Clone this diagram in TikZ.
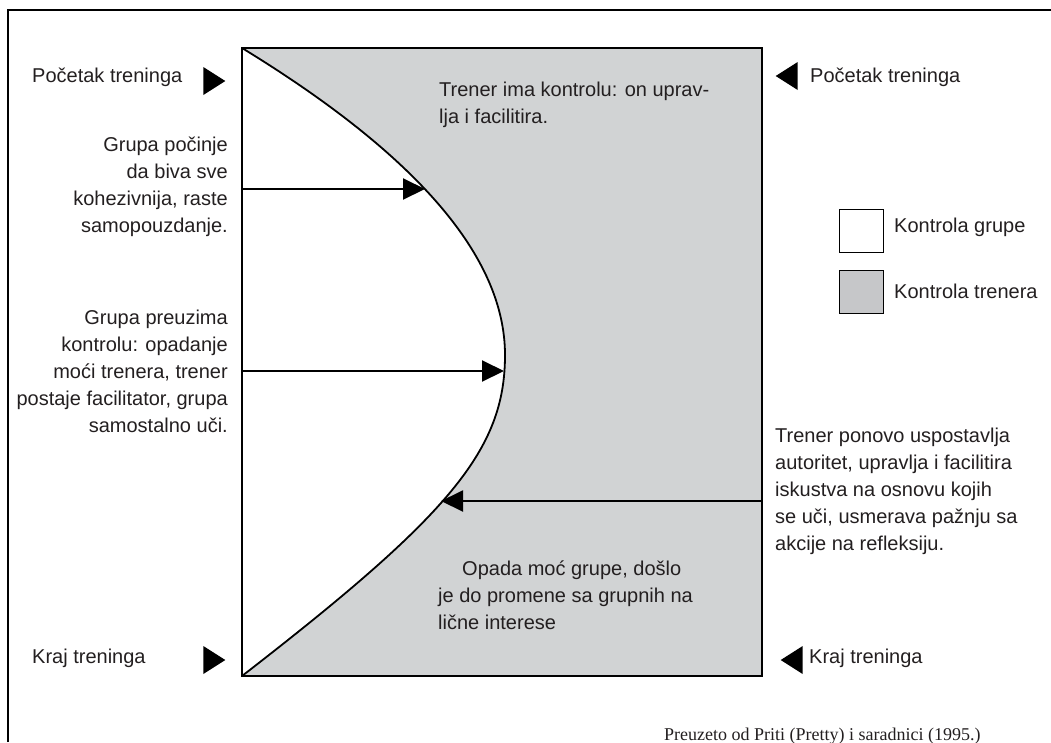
\documentclass[tikz,border=0pt]{standalone}
\usepackage{fontspec}
\setmainfont{Liberation Sans}
\newfontfamily\citefont{Liberation Serif}
\usepackage{tikz}
\usetikzlibrary{arrows.meta,shapes.geometric}
\definecolor{trenergray}{RGB}{209,211,212}
\definecolor{legendgray}{RGB}{198,199,201}
\definecolor{ink}{RGB}{35,31,32}

\begin{document}
\begin{tikzpicture}[x=1pt,y=-1pt,
  txt/.style={inner sep=0pt,font=\fontsize{20}{27}\selectfont,text=ink},
  ptr/.style={isosceles triangle,isosceles triangle stretches,fill=black,
    inner sep=0pt,minimum width=28pt,minimum height=22pt},
  strelica/.style={line width=2pt,-{Triangle[length=22pt,width=21pt]}},
  kljuc/.style={draw,line width=1.3pt,minimum width=44pt,minimum height=43pt,inner sep=0pt}]
\useasboundingbox (0,0) rectangle (1051,742);
% okvir
\draw[line width=1.3pt] (8,742) -- (8,10) -- (1051,10);
% pravougaonik i kriva
\coordinate (tl) at (242,48);
\coordinate (br) at (762,676);
\coordinate (bl) at (242,676);
\coordinate (tr) at (762,48);
\coordinate (vrh) at (505,355);
\fill[trenergray] (tl) rectangle (br);
\fill[white] (tl) .. controls (417,155) and (505,257) .. (vrh)
  .. controls (505,450) and (450,515) .. (bl) -- cycle;
\draw[line width=1.8pt] (tl) .. controls (417,155) and (505,257) .. (vrh)
  .. controls (505,450) and (450,515) .. (bl);
\draw[line width=2pt] (tl) rectangle (br);
% oznake
\node[txt,anchor=west] (pocL) at (32,77) {Početak treninga};
\node[ptr] (pocLm) at (211,81) {};
\node[ptr,shape border rotate=180] (pocRm) at (790,76) {};
\node[txt,anchor=west] (pocR) at (810,77) {Početak treninga};
\node[txt,anchor=west,align=left] (trener) at (439,104.5)
  {Trener ima kontrolu: on uprav-\\lja i facilitira.};
\node[txt,anchor=east,align=right] (kohez) at (228,186.5)
  {Grupa počinje\\da biva sve\\kohezivnija, raste\\samopouzdanje.};
\node[txt,anchor=east,align=right] (preuz) at (228,371)
  {Grupa preuzima\\kontrolu: opadanje\\moći trenera, trener\\postaje facilitator, grupa\\samostalno uči.};
\node[txt,anchor=west,align=left] (autor) at (775,491)
  {Trener ponovo uspostavlja\\autoritet, upravlja i facilitira\\iskustva na osnovu kojih\\se uči, usmerava pažnju sa\\akcije na refleksiju.};
\node[txt,anchor=west,align=left] (opada) at (438,595)
  {\hspace*{24pt}Opada moć grupe, došlo\\je do promene sa grupnih na\\lične interese};
\node[txt,anchor=west] (krajL) at (32,658) {Kraj treninga};
\node[ptr] (krajLm) at (211,660) {};
\node[ptr,shape border rotate=180] (krajRm) at (795,660) {};
\node[txt,anchor=west] (krajR) at (809,658) {Kraj treninga};
% legenda
\node[kljuc,fill=white,anchor=north west] (kg) at (839,209) {};
\node[kljuc,fill=legendgray,anchor=north west] (kt) at (839,270) {};
\node[txt,anchor=west] (kgt) at (894,227) {Kontrola grupe};
\node[txt,anchor=west] (ktt) at (894,291) {Kontrola trenera};
% strelice
\coordinate (k1) at (425,189);
\coordinate (k2) at (504,371);
\coordinate (k3) at (441,501);
\draw[strelica] (tl |- k1) -- (k1);
\draw[strelica] (tl |- k2) -- (k2);
\draw[strelica] (tr |- k3) -- (k3);
\node[inner sep=0pt,anchor=base west,font=\citefont\fontsize{18}{22}\selectfont,text=ink]
  (izvor) at (664,740) {Preuzeto od Priti (Pretty) i saradnici (1995.)};
\end{tikzpicture}
\end{document}
